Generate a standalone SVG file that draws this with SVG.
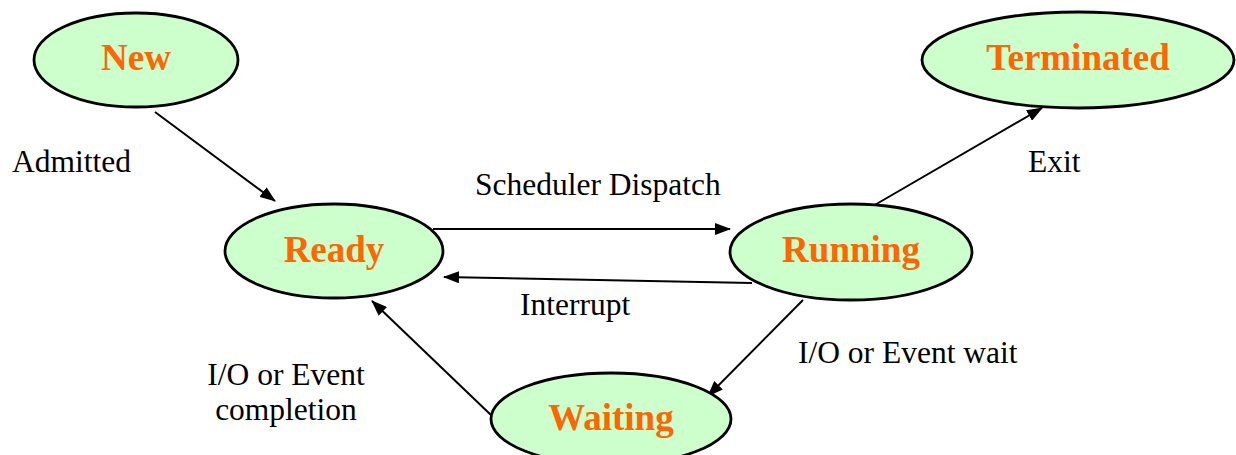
<svg xmlns="http://www.w3.org/2000/svg" width="1236" height="455" viewBox="0 0 1236 455">
<style>
.node{fill:#CCFFCC;stroke:#000;stroke-width:2.8}
.nt{font-family:"Liberation Serif",serif;font-weight:bold;font-size:37px;fill:#FF6600;text-anchor:middle}
.lbl{font-family:"Liberation Serif",serif;font-size:31.5px;fill:#000}
.edge{stroke:#000;stroke-width:2;fill:none;marker-end:url(#arr)}
</style>
<defs>
<marker id="arr" viewBox="0 0 16 12" refX="15" refY="6" markerWidth="16" markerHeight="12" markerUnits="userSpaceOnUse" orient="auto">
<path d="M0,0 L16,6 L0,12 Z" fill="#000"/>
</marker>
</defs>
<rect width="1236" height="455" fill="#fff"/>
<g id="connectors">
<line class="edge" x1="155" y1="112" x2="275" y2="201"/>
<line class="edge" x1="433" y1="229" x2="730" y2="229"/>
<line class="edge" x1="752" y1="283" x2="444" y2="277"/>
<line class="edge" x1="873" y1="206" x2="1042" y2="108"/>
<line class="edge" x1="803" y1="300" x2="708" y2="396"/>
<line class="edge" x1="492" y1="416" x2="372" y2="301"/>
</g>
<g id="node-new">
<ellipse class="node" cx="136" cy="60" rx="102" ry="47"/>
<text class="nt" x="136" y="70">New</text>
</g>
<g id="node-ready">
<ellipse class="node" cx="334" cy="251" rx="109" ry="47"/>
<text class="nt" x="334" y="262">Ready</text>
</g>
<g id="node-running">
<ellipse class="node" cx="851" cy="252" rx="121" ry="48"/>
<text class="nt" x="851" y="262">Running</text>
</g>
<g id="node-waiting">
<ellipse class="node" cx="611" cy="419" rx="120" ry="46"/>
<text class="nt" x="611" y="430">Waiting</text>
</g>
<g id="node-terminated">
<ellipse class="node" cx="1078" cy="60" rx="156" ry="48"/>
<text class="nt" x="1078" y="70">Terminated</text>
</g>
<g id="labels">
<text class="lbl" x="12" y="172">Admitted</text>
<text class="lbl" x="475" y="195">Scheduler Dispatch</text>
<text class="lbl" x="520" y="315">Interrupt</text>
<text class="lbl" x="286" y="385" text-anchor="middle">I/O or Event</text>
<text class="lbl" x="286" y="420" text-anchor="middle">completion</text>
<text class="lbl" x="798" y="363">I/O or Event wait</text>
<text class="lbl" x="1028" y="172">Exit</text>
</g>
</svg>
